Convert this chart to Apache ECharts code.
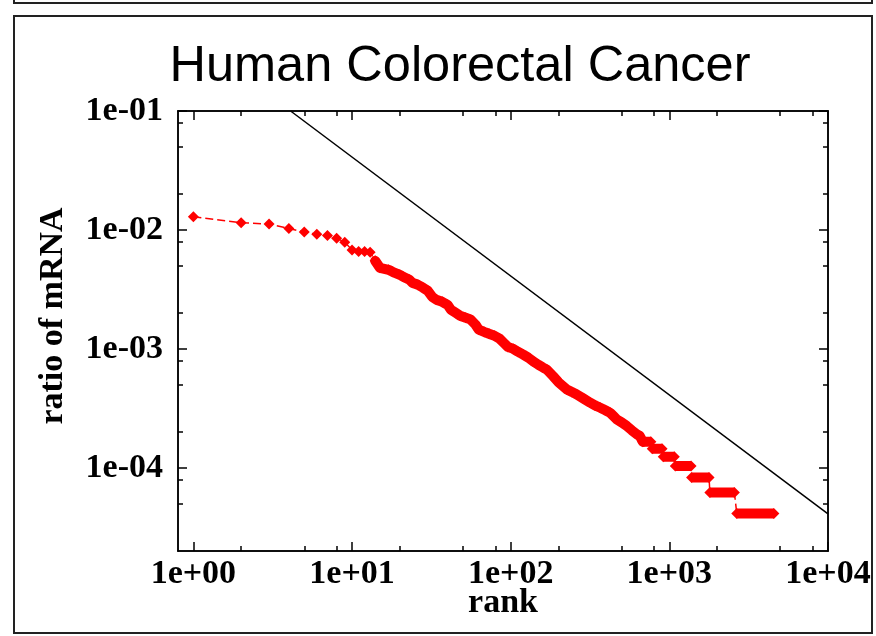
<!DOCTYPE html>
<html>
<head>
<meta charset="utf-8">
<title>Human Colorectal Cancer</title>
<script src="https://cdn.jsdelivr.net/npm/echarts@6/dist/echarts.min.js"></script>
<style>
  html, body { margin: 0; padding: 0; background: #fff; }
  #chart { width: 876px; height: 636px; }
</style>
</head>
<body>
<div id="chart"></div>
<script>
// Rank of each tag and its share of all mRNA tags (upper part of the curve)
const curveRanks = [
  1, 2, 3, 4, 5, 6, 7, 8, 9, 10, 11, 12, 13, 14, 15,
  17, 18, 20, 21, 23, 24, 26, 28, 30, 32, 34, 37, 40, 42, 45, 48, 52, 56, 60,
  63, 68, 73, 79, 85, 90, 96, 104, 111, 120, 129, 139, 149, 160,
  169, 185, 200, 226, 243, 261, 288, 317, 340, 367, 395, 424, 445, 467, 503, 541, 580, 625, 650
];
const curveRatios = [
  0.0129, 0.0115, 0.0112, 0.0103, 0.0096, 0.0092, 0.0090, 0.0085, 0.0079, 0.0068, 0.0066, 0.0066, 0.0065, 0.0055, 0.0048,
  0.00462, 0.00445, 0.0042, 0.00404, 0.00381, 0.0036, 0.00346, 0.00327, 0.00308, 0.00274, 0.00259, 0.00249, 0.00235, 0.00213, 0.00201, 0.0019, 0.00183, 0.00176, 0.0016,
  0.00145, 0.00139, 0.00134, 0.00129, 0.00122, 0.00113, 0.00104, 0.001, 0.000948, 0.000895, 0.000845, 0.000783, 0.000738, 0.000697,
  0.00067, 0.00059, 0.000525, 0.000456, 0.000435, 0.000414, 0.000382, 0.000353, 0.000335, 0.00032, 0.000305, 0.00029, 0.000272, 0.000255, 0.00024, 0.000224, 0.000207, 0.000191, 0.000186
];

// Rare tags: runs of ranks that share the same ratio (8, 7, ... 2 copies)
const stepRatios = [0.0001656, 0.0001449, 0.0001242, 0.0001035, 0.0000828, 0.0000621, 0.0000414];
const stepFirstRank = [680, 780, 915, 1090, 1380, 1800, 2660];
const stepLastRank = [765, 900, 1075, 1370, 1780, 2570, 4560];

// First rank where the markers merge into a solid band
const bandStartRank = 14;

// Zipf reference line (slope -1 on log-log axes)
const zipfRanks = [4.1, 10000];
const zipfRatios = [0.1, 0.000041];

// Axis ranges and tick marks
const xRange = [0.8, 10000];
const yRange = [0.00002, 0.1];
const xMajor = [1, 10, 100, 1000, 10000];
const xMajorLabels = ['1e+00', '1e+01', '1e+02', '1e+03', '1e+04'];
const xMinor = [2, 5, 8, 20, 50, 80, 200, 500, 800, 2000, 5000, 8000];
const yMajor = [0.0001, 0.001, 0.01, 0.1];
const yMajorLabels = ['1e-04', '1e-03', '1e-02', '1e-01'];
const yMinor = [0.00005, 0.00008, 0.0002, 0.0005, 0.0008, 0.002, 0.005, 0.008, 0.02, 0.05, 0.08];

const RED = '#ff0000';
const labelFont = {
  fontFamily: 'Liberation Serif',
  fontWeight: 'bold',
  fontSize: 34,
  color: '#000'
};

function labelFor(values, labels) {
  return function (v) {
    for (let i = 0; i < values.length; i++) {
      if (Math.abs(Math.log10(values[i]) - Math.log10(v)) < 1e-6) return labels[i];
    }
    return '';
  };
}

function makeAxis(position, range, ticks, len, extra) {
  return Object.assign({
    type: 'log',
    logBase: 10,
    position: position,
    min: range[0],
    max: range[1],
    axisLine: { show: true, onZero: false, lineStyle: { color: '#000', width: 1.5 } },
    axisTick: { show: true, inside: true, length: len, customValues: ticks, lineStyle: { color: '#000', width: 1.5 } },
    axisLabel: { show: false },
    splitLine: { show: false },
    minorTick: { show: false },
    minorSplitLine: { show: false }
  }, extra || {});
}

const xAxes = [
  makeAxis('bottom', xRange, xMajor, 9, {
    axisLabel: Object.assign({
      show: true,
      customValues: xMajor,
      margin: 6,
      formatter: labelFor(xMajor, xMajorLabels)
    }, labelFont),
    name: 'rank',
    nameLocation: 'middle',
    nameGap: 35,
    nameMoveOverlap: false,
    nameTextStyle: labelFont
  }),
  makeAxis('bottom', xRange, xMinor, 5),
  makeAxis('top', xRange, xMajor, 9),
  makeAxis('top', xRange, xMinor, 5)
];

const yAxes = [
  makeAxis('left', yRange, yMajor, 9, {
    axisLabel: Object.assign({
      show: true,
      customValues: yMajor,
      margin: 15,
      formatter: labelFor(yMajor, yMajorLabels)
    }, labelFont),
    name: 'ratio of mRNA',
    nameLocation: 'middle',
    nameGap: 108,
    nameRotate: 90,
    nameMoveOverlap: false,
    nameTextStyle: Object.assign({ padding: [0, 0, 0, 30] }, labelFont)
  }),
  makeAxis('left', yRange, yMinor, 5),
  makeAxis('right', yRange, yMajor, 9),
  makeAxis('right', yRange, yMinor, 5)
];

// All points in rank order: the curve, then both ends of every run
const allPoints = curveRanks.map((r, i) => [r, curveRatios[i]]);
stepRatios.forEach((v, i) => {
  allPoints.push([stepFirstRank[i], v]);
  allPoints.push([stepLastRank[i], v]);
});

// Dense part of the curve, drawn as a continuous band
const curveBand = curveRanks
  .map((r, i) => [r, curveRatios[i]])
  .filter(p => p[0] >= bandStartRank);
curveBand.push([stepFirstRank[0], stepRatios[0]]);

// Each run of equal ratios as its own band segment
const stepBand = [];
stepRatios.forEach((v, i) => {
  if (i > 0) stepBand.push(['-', '-']);
  stepBand.push([stepFirstRank[i], v]);
  stepBand.push([stepLastRank[i], v]);
});

const zipfPoints = zipfRanks.map((r, i) => [r, zipfRatios[i]]);

const chart = echarts.init(document.getElementById('chart'), null, { renderer: 'canvas' });
chart.setOption({
  animation: false,
  backgroundColor: '#fff',
  title: {
    text: 'Human Colorectal Cancer',
    left: 455,
    top: 37,
    textAlign: 'center',
    textStyle: {
      fontFamily: 'Liberation Sans',
      fontWeight: 'normal',
      fontSize: 50.5,
      color: '#000'
    }
  },
  grid: { left: 178, right: 48, top: 111, bottom: 85, containLabel: false },
  xAxis: xAxes,
  yAxis: yAxes,
  series: [
    {
      type: 'line',
      data: zipfPoints,
      symbol: 'none',
      lineStyle: { color: '#000', width: 1.5 },
      silent: true
    },
    {
      type: 'line',
      data: curveBand,
      symbol: 'none',
      lineStyle: { color: RED, width: 10, join: 'round', cap: 'round' },
      silent: true
    },
    {
      type: 'line',
      data: stepBand,
      connectNulls: false,
      symbol: 'none',
      lineStyle: { color: RED, width: 10, cap: 'butt' },
      silent: true
    },
    {
      type: 'line',
      data: allPoints,
      symbol: 'diamond',
      symbolSize: 11,
      itemStyle: { color: RED },
      lineStyle: { color: RED, width: 1.5, type: [8, 4] },
      silent: true
    }
  ],
  graphic: [
    {
      type: 'rect',
      shape: { x: 14, y: 16, width: 858, height: 617 },
      style: { fill: null, stroke: '#222', lineWidth: 2 },
      silent: true
    },
    {
      type: 'rect',
      shape: { x: 14, y: -20, width: 858, height: 23 },
      style: { fill: null, stroke: '#222', lineWidth: 2 },
      silent: true
    }
  ]
});
</script>
</body>
</html>
